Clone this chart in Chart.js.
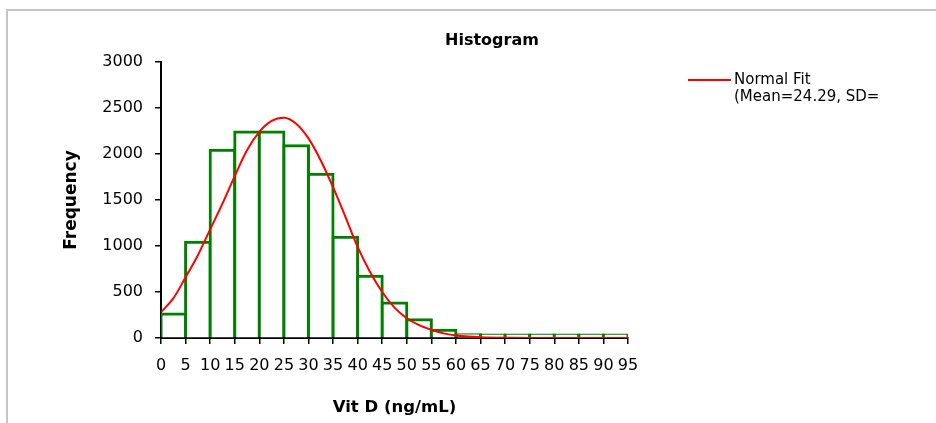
<!DOCTYPE html>
<html lang="en">
<head>
    <meta charset="UTF-8">
    <meta name="viewport" content="width=device-width, initial-scale=1.0">
    <title>Histogram</title>
    <script src="https://cdn.jsdelivr.net/npm/chart.js"></script>
    <style>
        body {
            margin: 0;
            background: #fff;
            overflow: hidden;
        }

        .frame {
            position: absolute;
            left: 6px;
            top: 9px;
            width: 1000px;
            height: 500px;
            border-top: 2px solid #c4c4c4;
            border-left: 2px solid #c4c4c4;
        }

        .chart-container {
            position: absolute;
            left: 0;
            top: 0;
            width: 936px;
            height: 423px;
        }
    </style>
</head>
<body>
    <div class="frame"></div>
    <div class="chart-container">
        <canvas id="histChart"></canvas>
    </div>

    <script>
        // histogram bins (5 ng/mL wide), centres and counts
        const binCenters = [2.5, 7.5, 12.5, 17.5, 22.5, 27.5, 32.5, 37.5, 42.5, 47.5,
                            52.5, 57.5, 62.5, 67.5, 72.5, 77.5, 82.5, 87.5, 92.5];
        const frequencies = [260, 1040, 2040, 2240, 2240, 2090, 1780, 1095, 670, 380,
                             198, 85, 35, 22, 15, 10, 5, 3, 2];

        // normal fit curve
        const fitX = [0, 2.5, 5, 7.5, 10, 12.5, 15, 17.5, 20, 22.5, 25, 27.5, 30, 32.5, 35,
                      37.5, 40, 42.5, 45, 47.5, 50, 52.5, 55, 57.5, 60, 62.5, 65, 70, 75, 80, 85, 90, 95];
        const fitY = [280, 430, 660, 900, 1180, 1460, 1760, 2040, 2240, 2360, 2395, 2330, 2170, 1930, 1640,
                      1320, 990, 720, 500, 330, 215, 140, 90, 50, 28, 15, 8, 2, 0, 0, 0, 0, 0];

        const chartTitle = 'Histogram';
        const legendLines = ['Normal Fit', '(Mean=24.29, SD='];
        const barColor = '#008000';
        const fitColor = '#ff0000';

        Chart.defaults.font.family = '"DejaVu Sans", sans-serif';
        Chart.defaults.color = '#000';

        // title and the (clipped) legend box sit off-centre, so draw them by hand
        const titleAndLegend = {
            id: 'titleAndLegend',
            afterDraw(chart) {
                const ctx = chart.ctx;
                ctx.save();
                ctx.fillStyle = '#000';
                ctx.textBaseline = 'middle';
                ctx.textAlign = 'center';
                ctx.font = 'bold 16px "DejaVu Sans"';
                ctx.fillText(chartTitle, 492, 41);

                ctx.strokeStyle = fitColor;
                ctx.lineWidth = 2;
                ctx.beginPath();
                ctx.moveTo(688, 80);
                ctx.lineTo(731, 80);
                ctx.stroke();

                ctx.textAlign = 'left';
                ctx.font = '15px "DejaVu Sans"';
                legendLines.forEach((line, i) => ctx.fillText(line, 734, 80 + i * 17));
                ctx.restore();
            }
        };

        const ctx = document.getElementById('histChart').getContext('2d');
        new Chart(ctx, {
            type: 'bar',
            data: {
                datasets: [
                    {
                        type: 'line',
                        label: legendLines.join(' '),
                        data: fitX.map((x, i) => ({ x: x, y: fitY[i] })),
                        borderColor: fitColor,
                        borderWidth: 2,
                        pointRadius: 0,
                        cubicInterpolationMode: 'monotone',
                        order: 0
                    },
                    {
                        label: 'Frequency',
                        data: binCenters.map((x, i) => ({ x: x, y: frequencies[i] })),
                        backgroundColor: '#fff',
                        borderColor: barColor,
                        borderWidth: 3,
                        inflateAmount: 1.5,   // centre the outline on the bin edges, like excel
                        minBarLength: 3,
                        barPercentage: 1,
                        categoryPercentage: 1,
                        order: 1
                    }
                ]
            },
            options: {
                responsive: true,
                maintainAspectRatio: false,
                animation: false,
                layout: {
                    padding: { left: 61, right: 308, top: 62, bottom: 5 }
                },
                scales: {
                    x: {
                        type: 'linear',
                        min: 0,
                        max: 95,
                        offset: false,
                        z: 1,
                        grid: {
                            offset: false,
                            drawOnChartArea: false,
                            tickLength: 6,
                            color: '#000',
                            lineWidth: 1.5
                        },
                        border: { color: '#000', width: 2 },
                        ticks: {
                            stepSize: 5,
                            autoSkip: false,
                            maxRotation: 0,
                            padding: 12,
                            font: { size: 16 }
                        },
                        title: {
                            display: true,
                            text: 'Vit D (ng/mL)',
                            padding: 0,
                            font: { size: 16.5, weight: 'bold' }
                        },
                        afterFit(scale) { scale.height = 80; }
                    },
                    y: {
                        min: 0,
                        max: 3000,
                        z: 1,
                        grid: {
                            drawOnChartArea: false,
                            tickLength: 6,
                            color: '#000',
                            lineWidth: 1.5
                        },
                        border: { color: '#000', width: 2 },
                        ticks: {
                            stepSize: 500,
                            padding: 12,
                            font: { size: 16 },
                            callback: value => String(value)
                        },
                        title: {
                            display: true,
                            text: 'Frequency',
                            padding: 0,
                            font: { size: 17, weight: 'bold' }
                        },
                        afterFit(scale) { scale.width = 100; }
                    }
                },
                plugins: {
                    legend: { display: false },
                    title: { display: false },
                    tooltip: { enabled: false }
                }
            },
            plugins: [titleAndLegend]
        });
    </script>
</body>
</html>
